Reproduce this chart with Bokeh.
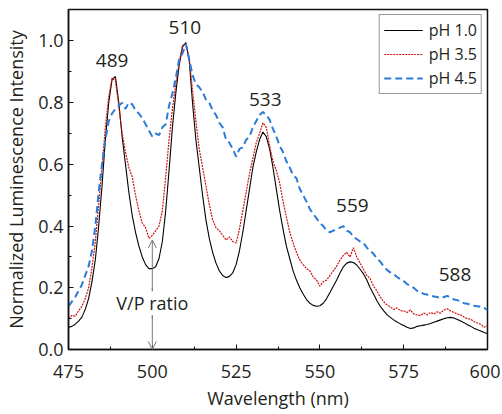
from bokeh.plotting import figure
from bokeh.embed import file_html
from bokeh.resources import INLINE
from bokeh.models import (Range1d, FixedTicker, Legend, LegendItem, Label, Arrow,
                          OpenHead, ColumnDataSource, NumeralTickFormatter)
from bokeh.core.properties import value

# ---------------- data ----------------
wavelength = list(range(475, 601))

ph10 = [0.072, 0.075, 0.082, 0.092, 0.105, 0.130, 0.165, 0.220, 0.290, 0.400,
        0.530, 0.680, 0.800, 0.875, 0.885, 0.800, 0.690, 0.600, 0.510, 0.435,
        0.380, 0.335, 0.300, 0.275, 0.262, 0.262, 0.268, 0.295, 0.350, 0.450,
        0.580, 0.720, 0.830, 0.920, 0.980, 0.995, 0.940, 0.800, 0.680, 0.590,
        0.500, 0.420, 0.360, 0.315, 0.280, 0.255, 0.240, 0.233, 0.237, 0.248,
        0.275, 0.320, 0.380, 0.450, 0.520, 0.590, 0.640, 0.680, 0.705, 0.690,
        0.650, 0.590, 0.520, 0.450, 0.390, 0.335, 0.295, 0.255, 0.225, 0.200,
        0.180, 0.162, 0.150, 0.143, 0.140, 0.142, 0.150, 0.165, 0.185, 0.205,
        0.225, 0.248, 0.268, 0.280, 0.284, 0.282, 0.274, 0.260, 0.245, 0.225,
        0.200, 0.180, 0.158, 0.140, 0.126, 0.113, 0.104, 0.096, 0.089, 0.083,
        0.078, 0.072, 0.068, 0.070, 0.075, 0.077, 0.079, 0.081, 0.084, 0.088,
        0.092, 0.096, 0.100, 0.103, 0.104, 0.102, 0.097, 0.092, 0.087, 0.080,
        0.075, 0.069, 0.064, 0.060, 0.055, 0.051]

ph35 = [0.100, 0.110, 0.108, 0.125, 0.140, 0.165, 0.200, 0.265, 0.350, 0.470,
        0.590, 0.720, 0.820, 0.880, 0.870, 0.790, 0.700, 0.640, 0.590, 0.560,
        0.500, 0.450, 0.410, 0.395, 0.360, 0.370, 0.385, 0.400, 0.450, 0.560,
        0.680, 0.780, 0.860, 0.930, 0.985, 0.990, 0.945, 0.840, 0.740, 0.650,
        0.590, 0.530, 0.470, 0.420, 0.395, 0.385, 0.370, 0.355, 0.365, 0.350,
        0.345, 0.390, 0.450, 0.510, 0.570, 0.620, 0.670, 0.700, 0.735, 0.720,
        0.660, 0.610, 0.580, 0.540, 0.480, 0.430, 0.380, 0.345, 0.315, 0.290,
        0.275, 0.262, 0.255, 0.235, 0.225, 0.205, 0.220, 0.225, 0.240, 0.255,
        0.270, 0.290, 0.305, 0.315, 0.300, 0.330, 0.300, 0.280, 0.260, 0.240,
        0.230, 0.205, 0.190, 0.170, 0.155, 0.145, 0.138, 0.130, 0.135, 0.126,
        0.125, 0.120, 0.128, 0.115, 0.112, 0.110, 0.118, 0.112, 0.120, 0.115,
        0.122, 0.118, 0.128, 0.132, 0.125, 0.120, 0.115, 0.112, 0.105, 0.100,
        0.098, 0.090, 0.086, 0.082, 0.072, 0.078]

ph45 = [0.140, 0.155, 0.170, 0.190, 0.210, 0.240, 0.270, 0.320, 0.400, 0.510,
        0.600, 0.680, 0.740, 0.765, 0.780, 0.790, 0.800, 0.780, 0.800, 0.795,
        0.775, 0.765, 0.750, 0.730, 0.710, 0.690, 0.700, 0.695, 0.720, 0.730,
        0.790, 0.830, 0.880, 0.940, 0.960, 0.990, 0.940, 0.890, 0.860, 0.850,
        0.835, 0.810, 0.800, 0.775, 0.760, 0.735, 0.720, 0.680, 0.670, 0.650,
        0.625, 0.650, 0.655, 0.680, 0.690, 0.720, 0.740, 0.760, 0.770, 0.760,
        0.745, 0.715, 0.690, 0.660, 0.640, 0.610, 0.590, 0.565, 0.555, 0.520,
        0.500, 0.480, 0.455, 0.440, 0.425, 0.410, 0.400, 0.385, 0.380, 0.385,
        0.390, 0.395, 0.400, 0.385, 0.380, 0.365, 0.358, 0.350, 0.345, 0.330,
        0.320, 0.310, 0.295, 0.285, 0.270, 0.258, 0.250, 0.245, 0.235, 0.228,
        0.222, 0.212, 0.206, 0.200, 0.190, 0.185, 0.180, 0.178, 0.174, 0.172,
        0.170, 0.166, 0.170, 0.174, 0.168, 0.162, 0.160, 0.155, 0.150, 0.148,
        0.145, 0.142, 0.140, 0.138, 0.135, 0.128]

peak_x = [488.0, 509.7, 533.7, 559.7, 590.3]
peak_y = [0.938, 1.044, 0.81, 0.467, 0.244]
peak_text = ["489", "510", "533", "559", "588"]

series_names = ["pH 1.0", "pH 3.5", "pH 4.5"]
x_ticks = [475, 500, 525, 550, 575, 600]
y_ticks = [0.0, 0.2, 0.4, 0.6, 0.8, 1.0]

vp_x = 500
vp_top = 0.355
vp_text_y = 0.15

# ---------------- figure ----------------
FONT = "Open Sans"
TXT = "#231f20"

p = figure(width=500, height=412, output_backend="svg", toolbar_location=None,
           x_range=Range1d(475, 600), y_range=Range1d(0, 1.102),
           min_border_left=68, min_border_right=13, min_border_top=9,
           min_border_bottom=61)
p.grid.visible = False
p.outline_line_color = "#111111"
p.outline_line_width = 1.5
p.background_fill_color = "white"
p.border_fill_color = "white"

for ax in (p.xaxis[0], p.yaxis[0]):
    ax.axis_line_width = 1.5
    ax.axis_line_color = "#111111"
    ax.major_tick_in = 5
    ax.major_tick_out = 0
    ax.minor_tick_in = 3
    ax.minor_tick_out = 0
    ax.major_tick_line_color = "#111111"
    ax.minor_tick_line_color = "#111111"
    ax.major_label_text_font = FONT
    ax.major_label_text_font_size = "18px"
    ax.major_label_text_color = TXT
    ax.axis_label_text_font = FONT
    ax.axis_label_text_font_size = "18px"
    ax.axis_label_text_font_style = "normal"
    ax.axis_label_text_color = TXT

p.xaxis.ticker = FixedTicker(ticks=x_ticks, minor_ticks=[487.5, 512.5, 537.5, 562.5, 587.5])
p.yaxis.ticker = FixedTicker(ticks=y_ticks, minor_ticks=[0.1, 0.3, 0.5, 0.7, 0.9])
p.yaxis.formatter = NumeralTickFormatter(format="0.0")
p.xaxis.major_label_standoff = 15
p.yaxis.major_label_standoff = 5
p.xaxis.axis_label = "Wavelength (nm)"
p.yaxis.axis_label = "Normalized Luminescence Intensity"
p.xaxis.axis_label_standoff = 5
p.yaxis.axis_label_standoff = 7

r1 = p.line(wavelength, ph10, line_color="#000000", line_width=1.1)
r2 = p.line(wavelength, ph35, line_color="#cc1111", line_width=1.2, line_dash="2 1")
r3 = p.line(wavelength, ph45, line_color="#2b7bd9", line_width=2, line_dash="7 4")

src = ColumnDataSource(dict(x=peak_x, y=peak_y, t=peak_text))
p.text(x="x", y="y", text="t", source=src, text_font=value(FONT),
       text_font_size="19px", text_color=TXT, text_align="center",
       text_baseline="middle")

arrow = Arrow(x_start=vp_x, y_start=0.1, x_end=vp_x, y_end=vp_top,
              line_color="#777777", line_width=1,
              end=OpenHead(size=8, line_color="#777777", line_width=1))
p.add_layout(arrow)
arrow2 = Arrow(x_start=vp_x, y_start=0.2, x_end=vp_x, y_end=0.0,
               line_color="#777777", line_width=1,
               end=OpenHead(size=8, line_color="#777777", line_width=1))
p.add_layout(arrow2)
lab = Label(x=vp_x, y=vp_text_y, text="V/P ratio", text_font=FONT,
            text_font_size="18px", text_color=TXT, text_align="center",
            text_baseline="middle", background_fill_color="white",
            background_fill_alpha=1.0)
p.add_layout(lab)

legend = Legend(items=[LegendItem(label=series_names[0], renderers=[r1]),
                       LegendItem(label=series_names[1], renderers=[r2]),
                       LegendItem(label=series_names[2], renderers=[r3])],
                location="top_right")
legend.margin = 5
legend.padding = 4
legend.spacing = 2
legend.glyph_width = 39
legend.glyph_height = 20
legend.label_height = 20
legend.label_standoff = 6
legend.label_text_font = FONT
legend.label_text_font_size = "16px"
legend.label_text_color = TXT
legend.border_line_color = "#333333"
legend.border_line_width = 1.5
legend.background_fill_alpha = 1.0
p.add_layout(legend)

open("out.html", "w").write(file_html(p, INLINE))
